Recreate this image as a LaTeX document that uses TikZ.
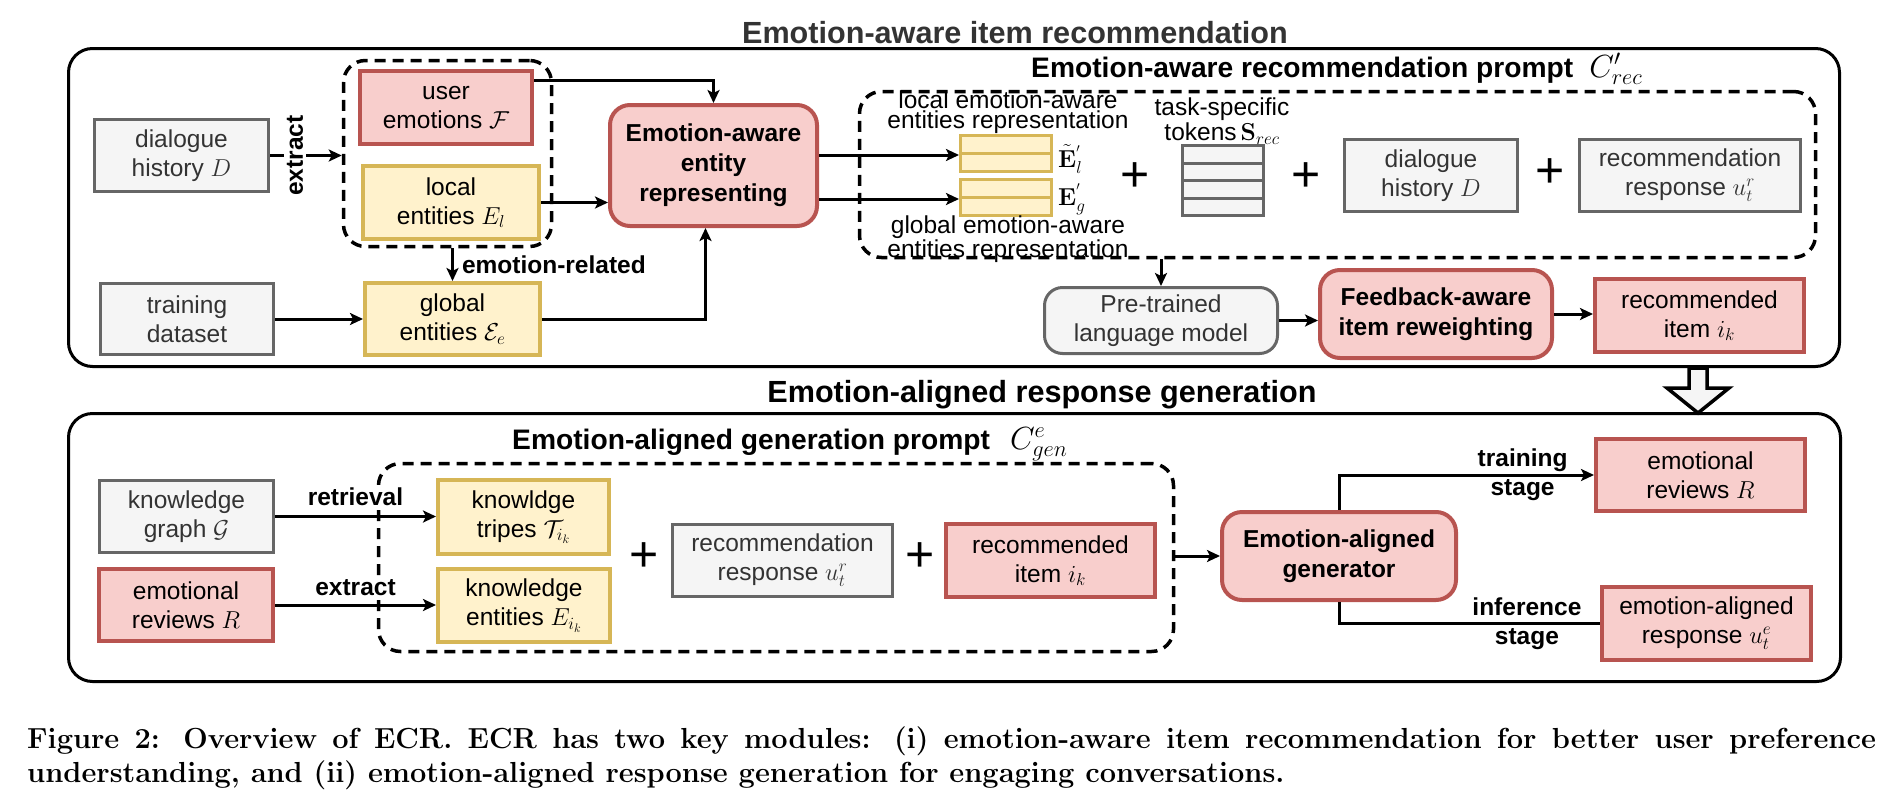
\RequirePackage{fix-cm}
\documentclass[tikz,border=0pt]{standalone}
\usepackage[no-math]{fontspec}
\setmainfont{Liberation Sans}
\usetikzlibrary{arrows.meta}

\definecolor{redfill}{HTML}{F8CECC}
\definecolor{redline}{HTML}{B85450}
\definecolor{yelfill}{HTML}{FFF2CC}
\definecolor{yelline}{HTML}{D6B656}
\definecolor{grayfill}{HTML}{F5F5F5}
\definecolor{grayline}{HTML}{666666}
\definecolor{darktext}{HTML}{333333}

\newcommand{\capfont}{\fontencoding{OT1}\fontfamily{cmr}\fontseries{bx}\fontshape{n}}

\tikzset{
  plainbox/.style={draw, align=center, inner sep=0pt, font=\fontsize{24.5}{29}\selectfont},
  graybox/.style={plainbox, fill=grayfill, draw=grayline, line width=3pt, text=darktext},
  redbox/.style={plainbox, fill=redfill, draw=redline, line width=4pt},
  yelbox/.style={plainbox, fill=yelfill, draw=yelline, line width=4pt},
  keybox/.style={redbox, rounded corners=20pt, font=\fontsize{24.5}{30}\selectfont\bfseries},
  dashbox/.style={draw, dash pattern=on 11pt off 7pt, line width=3.5pt, rounded corners=22pt, inner sep=0pt},
  outerbox/.style={draw, line width=3pt, rounded corners=24pt, inner sep=0pt},
  yelrow/.style={draw=yelline, fill=yelfill, line width=3pt, minimum width=91pt, minimum height=18pt, inner sep=0pt},
  tokrow/.style={draw=grayline, fill=grayfill, line width=3pt, minimum width=81pt, minimum height=17.5pt, inner sep=0pt},
  arr/.style={line width=3pt, -{Stealth[length=13pt,width=12pt,inset=3pt]}},
  lbl/.style={font=\fontsize{24.5}{29}\selectfont\bfseries, inner sep=3pt},
  stagelbl/.style={font=\fontsize{24.5}{29}\selectfont\bfseries, inner sep=0pt, align=center},
  smalltxt/.style={font=\fontsize{24.5}{20}\selectfont, inner sep=0pt, align=center},
  plus/.style={font=\fontsize{50}{50}\selectfont, inner sep=0pt},
  bigttl/.style={font=\fontsize{30.6}{34}\selectfont\bfseries, inner sep=0pt, anchor=base},
  promptttl/.style={font=\fontsize{28.2}{32}\selectfont\bfseries, inner sep=0pt, anchor=base west},
  captxt/.style={font=\capfont\fontsize{29}{34}\selectfont, inner sep=0pt, anchor=base west}
}

\begin{document}
\begin{tikzpicture}[x=1pt,y=-1pt]
  \useasboundingbox (0,0) rectangle (1899,809);

  % emotion-aware item recommendation
  \node[bigttl, text=darktext] (ttlrec) at (1015,43) {Emotion-aware item recommendation};
  \node[outerbox, minimum width=1771pt, minimum height=318pt] (frmrec) at (954,207.5) {};
  \node[dashbox, minimum width=208pt, minimum height=186pt] (grp) at (447.5,153.5) {};
  \node[dashbox, minimum width=956pt, minimum height=166pt] (rprompt) at (1337.5,174.5) {};
  \node[promptttl] (prec) at (1031,77) {Emotion-aware recommendation prompt\hspace{16pt}{\fontsize{32}{32}\selectfont$C'_{rec}$}};

  \node[graybox, minimum width=174pt, minimum height=72pt] (dh1) at (181.5,155.5) {dialogue\\history $D$};
  \node[redbox, minimum width=172pt, minimum height=73pt] (ue) at (446,107.5) {user\\emotions $\mathcal{F}$};
  \node[yelbox, minimum width=176pt, minimum height=73pt] (le) at (451,202.5) {local\\entities $E_l$};
  \node[keybox, minimum width=207pt, minimum height=121pt] (ent) at (713.5,165.5) {Emotion-aware\\entity\\representing};
  \node[graybox, minimum width=173pt, minimum height=71pt] (td) at (187,319) {training\\dataset};
  \node[yelbox, minimum width=175pt, minimum height=72pt] (ge) at (452.5,319) {global\\entities $\mathcal{E}_e$};

  \foreach \i/\y in {0/144.5,1/162.5}
    \node[yelrow] (stkl\i) at (1006,\y) {};
  \foreach \i/\y in {0/188.5,1/206.5}
    \node[yelrow] (stkg\i) at (1006,\y) {};
  \node[smalltxt] (lbllocal) at (1008,112) {local emotion-aware\\entities representation};
  \node[smalltxt] (lblglobal) at (1008,239) {global emotion-aware\\entities representation};
  \node[anchor=west, inner sep=0pt, font=\fontsize{24.5}{29}\selectfont] (elab) at ([xshift=5pt,yshift=-4pt]stkl0.south east) {$\tilde{\mathbf{E}}_l^{'}$};
  \node[anchor=west, inner sep=0pt, font=\fontsize{24.5}{29}\selectfont] (eglab) at ([xshift=5pt]stkg0.south east) {$\mathbf{E}_g^{'}$};

  \node[plus] (plus1) at (1135,177) {+};
  \foreach \i/\y in {0/154.25,1/171.75,2/189.25,3/206.75}
    \node[tokrow] (tok\i) at (1223,\y) {};
  \node[smalltxt, font=\fontsize{24.5}{25}\selectfont] (lbltok) at (1222,121) {task-specific\\tokens\,$\mathbf{S}_{rec}$};
  \node[plus] (plus2) at (1306,177) {+};
  \node[graybox, minimum width=173pt, minimum height=72pt] (dh2) at (1431,175.5) {dialogue\\history $D$};
  \node[plus] (plus3) at (1550,173) {+};
  \node[graybox, minimum width=221pt, minimum height=72pt] (rr1) at (1690,175.5) {recommendation\\response $u_t^r$};

  \node[graybox, rounded corners=18pt, minimum width=233pt, minimum height=66pt] (plm) at (1161,320.5) {Pre-trained\\language model};
  \node[keybox, minimum width=232pt, minimum height=88pt] (fb) at (1436,314) {Feedback-aware\\item reweighting};
  \node[redbox, minimum width=209pt, minimum height=73pt] (ri1) at (1699.5,315.5) {recommended\\item $i_k$};

  \draw[arr] (dh1.east) -- node[pos=0.35, lbl, fill=white, rotate=90] {extract} (dh1.east -| grp.west);
  \draw[arr] ([yshift=-11pt]ue.north east) -| (ent.north);
  \draw[arr] (le.east) -- (le.east -| ent.west);
  \draw[arr] (ge.north |- grp.south) -- node[right=8pt, lbl, inner sep=0pt] {emotion-related} (ge.north);
  \draw[arr] (td.east) -- (td.east -| ge.west);
  \draw[arr] (ge.east) -| ([xshift=-8pt]ent.south);
  \draw[arr] (ent.east |- stkl0.south west) -- (stkl0.south west);
  \draw[arr] (ent.east |- stkg0.south west) -- (stkg0.south west);
  \draw[arr] (plm.north |- rprompt.south) -- (plm.north);
  \draw[arr] (plm.east) -- (plm.east -| fb.west);
  \draw[arr] (fb.east) -- (fb.east -| ri1.west);

  % hand-over arrow
  \draw[line width=3.5pt, fill=grayfill, line join=miter]
    (1689,368) -- (1689,388) -- (1667,388) -- (1698,413) -- (1729,388) -- (1707,388) -- (1707,368) -- cycle;

  % emotion-aligned response generation
  \node[bigttl] (ttlgen) at (1042,402) {Emotion-aligned response generation};
  \node[outerbox, minimum width=1772pt, minimum height=268pt] (frmgen) at (954.5,547.5) {};
  \node[dashbox, minimum width=795pt, minimum height=188pt] (gprompt) at (776,557.5) {};
  \node[promptttl] (pgen) at (512,449) {Emotion-aligned generation prompt\hspace{20pt}{\fontsize{32}{32}\selectfont$C^e_{gen}$}};

  \node[graybox, minimum width=174pt, minimum height=72pt] (kg) at (186.5,516.5) {knowledge\\graph $\mathcal{G}$};
  \node[redbox, minimum width=174pt, minimum height=72pt] (er1) at (186,605) {emotional\\reviews $R$};
  \node[yelbox, minimum width=171pt, minimum height=74pt] (kt) at (523.5,517) {knowldge\\tripes $\mathcal{T}_{i_k}$};
  \node[yelbox, minimum width=172pt, minimum height=73pt] (ke) at (524,605.5) {knowledge\\entities $E_{i_k}$};
  \node[plus] (plus4) at (644,557) {+};
  \node[graybox, minimum width=220pt, minimum height=72pt] (rr2) at (782.5,560.5) {recommendation\\response $u_t^r$};
  \node[plus] (plus5) at (920,557) {+};
  \node[redbox, minimum width=209pt, minimum height=73pt] (ri2) at (1050.5,560.5) {recommended\\item $i_k$};

  \node[keybox, minimum width=234pt, minimum height=88pt] (gen) at (1339,556) {Emotion-aligned\\generator};
  \node[redbox, minimum width=209pt, minimum height=72pt] (er2) at (1700.5,475) {emotional\\reviews $R$};
  \node[redbox, minimum width=209pt, minimum height=73pt] (ear) at (1706.5,623.5) {emotion-aligned\\response $u_t^e$};

  \draw[arr] (kg.east) -- node[above=6pt, lbl, fill=white] {retrieval} (kg.east -| kt.west);
  \draw[arr] (er1.east) -- node[above=5pt, lbl, fill=white] {extract} (er1.east -| ke.west);
  \draw[arr] (gprompt.east |- gen.west) -- (gen.west);
  \draw[arr] (gen.north) |- node[pos=0.86, stagelbl] {training\\stage} (er2.west);
  \draw[line width=3pt] (gen.south) |- node[pos=0.86, stagelbl] {inference\\stage} (ear.west);

  % caption
  \node[captxt] (capa) at (27,748) {\makebox[1850pt][s]{Figure 2: Overview of ECR. ECR has two key modules: (i) emotion-aware item recommendation for better user preference}};
  \node[captxt] (capb) at (27,782) {understanding, and (ii) emotion-aligned response generation for engaging conversations.};
\end{tikzpicture}
\end{document}
